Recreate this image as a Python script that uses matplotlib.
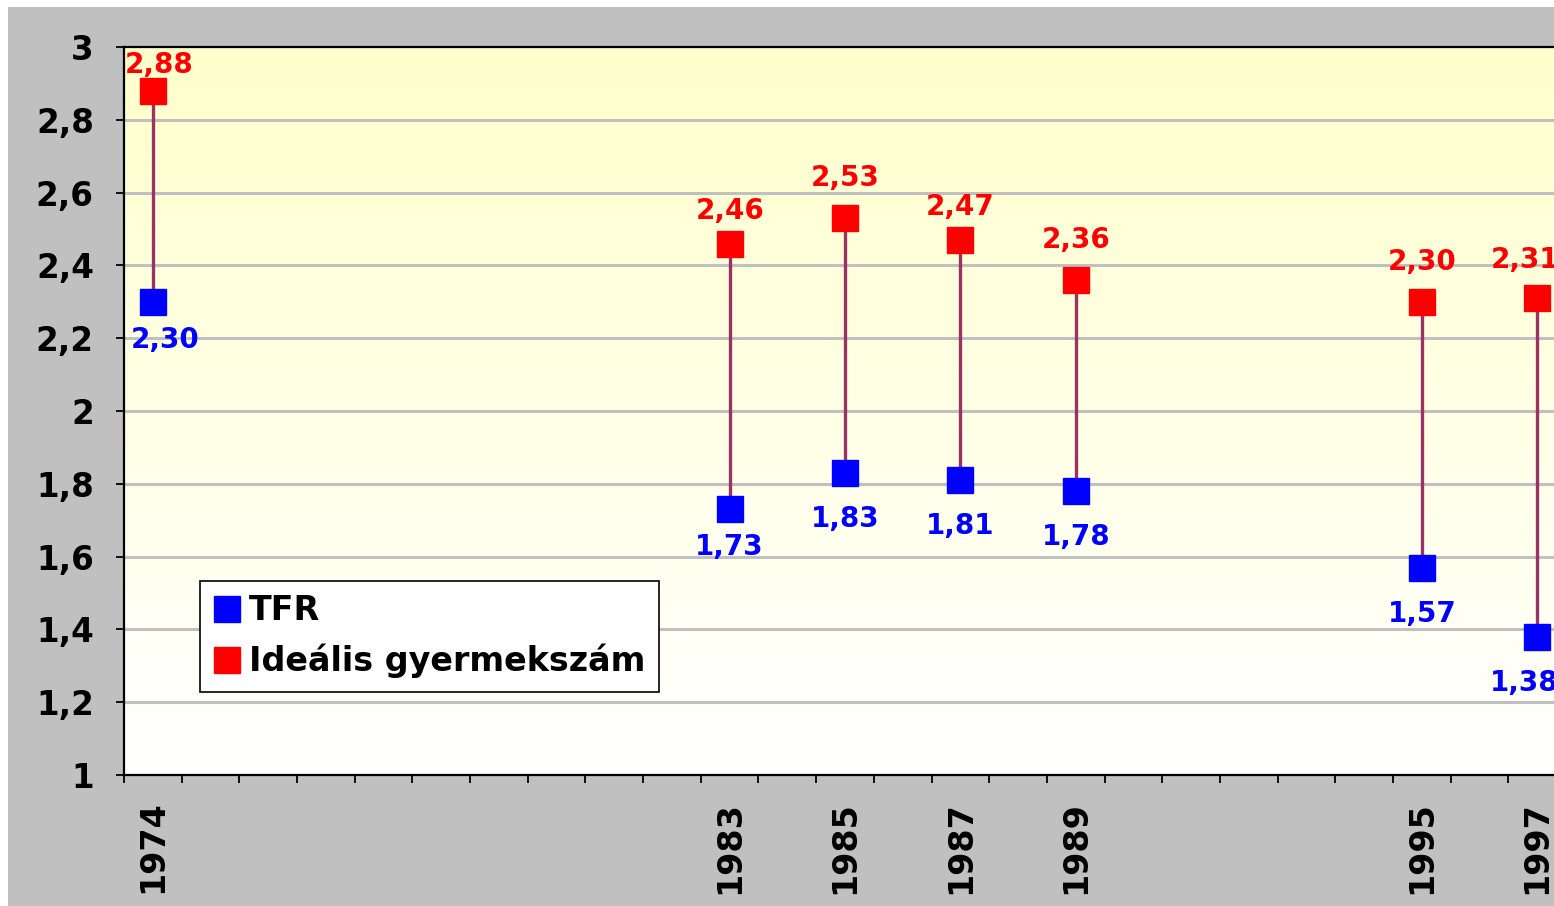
import numpy as np
import matplotlib
matplotlib.use("Agg")
import matplotlib.pyplot as plt
from matplotlib.colors import LinearSegmentedColormap
from matplotlib.patches import Rectangle
from matplotlib.lines import Line2D

# ---- data ----
categories = ["1974", "", "", "", "", "", "", "", "", "",
              "1983", "", "1985", "", "1987", "", "1989",
              "", "", "", "", "", "1995", "", "1997"]
years = ["1974", "1983", "1985", "1987", "1989", "1995", "1997"]
tfr = [2.30, 1.73, 1.83, 1.81, 1.78, 1.57, 1.38]
ideal = [2.88, 2.46, 2.53, 2.47, 2.36, 2.30, 2.31]
series_names = ["TFR", "Ideális gyermekszám"]
y_ticks = [1.0, 1.2, 1.4, 1.6, 1.8, 2.0, 2.2, 2.4, 2.6, 2.8, 3.0]
y_tick_labels = ["1", "1,2", "1,4", "1,6", "1,8", "2", "2,2", "2,4", "2,6", "2,8", "3"]

# ---- style (label offsets in pixels) ----
red_dy = [18, 25, 32, 24.5, 32, 32, 30]
blue_dy = [46, 46, 54, 54, 54, 54, 54]
lab_dx = [6.5, 0, 0, 0, 0, 0, -12.5]
blue_dx = [12.5, 0, 0, 0, 0, 0, -12.5]

W, H = 1554, 906
px = 72 / 100.0  # points per pixel at dpi 100
FONT = "DejaVu Sans"

fig = plt.figure(figsize=(W / 100, H / 100), dpi=100)
fig.patch.set_facecolor("white")
fig.add_artist(Rectangle((8 / W, 0), 1, (H - 7) / H, transform=fig.transFigure,
                         facecolor="#C0C0C0", edgecolor="none", zorder=-10))

ax = fig.add_axes([124 / W, (H - 775) / H, 1442 / W, 728 / H])
ncat = len(categories)
ax.set_xlim(-0.5, ncat - 0.5)
ax.set_ylim(y_ticks[0], y_ticks[-1])

cmap = LinearSegmentedColormap.from_list("bg", ["#FFFFFF", "#FFFFCC"])
ax.imshow(np.linspace(0, 1, 256).reshape(-1, 1), extent=[-0.5, ncat - 0.5, 1, 3],
          aspect="auto", cmap=cmap, origin="lower", zorder=0, interpolation="bilinear")

for y in y_ticks[1:-1]:
    ax.axhline(y, color="#C0C0C0", lw=2.2, zorder=1)

for s in ax.spines.values():
    s.set_linewidth(1.6)
    s.set_color("black")
    s.set_zorder(5)

ax.set_yticks(y_ticks)
ax.set_yticklabels(y_tick_labels, fontsize=23.5, fontweight="bold", family=FONT)
ax.tick_params(axis="y", direction="out", length=8 * px, width=1.3, pad=16, colors="black")

ax.set_xticks(np.arange(-0.5, ncat, 1.0))
ax.set_xticklabels([])
ax.tick_params(axis="x", which="major", direction="out", length=8 * px, width=1.3)
pos = [categories.index(y) for y in years]
ax.set_xticks(pos, minor=True)
ax.set_xticklabels(years, minor=True, rotation=90, fontsize=24, fontweight="bold", family=FONT)
ax.tick_params(axis="x", which="minor", length=0, pad=18.5)

ax.vlines(pos, tfr, ideal, color="#993366", lw=2.4, zorder=3)
ax.plot(pos, tfr, "s", color="#0000FF", ms=19, ls="none", zorder=4, clip_on=False)
ax.plot(pos, ideal, "s", color="#FF0000", ms=19, ls="none", zorder=4, clip_on=False)

def fmt(v):
    return f"{v:.2f}".replace(".", ",")

for i, x in enumerate(pos):
    ax.annotate(fmt(ideal[i]), xy=(x, ideal[i]), xytext=(lab_dx[i] * px, red_dy[i] * px),
                textcoords="offset points", ha="center", va="baseline",
                fontsize=20, fontweight="bold", color="#FF0000", family=FONT, zorder=6)
    ax.annotate(fmt(tfr[i]), xy=(x, tfr[i]), xytext=(blue_dx[i] * px, -blue_dy[i] * px),
                textcoords="offset points", ha="center", va="baseline",
                fontsize=20, fontweight="bold", color="#0000FF", family=FONT, zorder=6)

handles = [Line2D([], [], marker="s", ls="none", color="#0000FF", ms=19),
           Line2D([], [], marker="s", ls="none", color="#FF0000", ms=19)]
leg = fig.legend(handles, series_names, loc="upper left",
                 bbox_to_anchor=(200 / W, 1 - 581 / H), borderaxespad=0,
                 prop={"family": FONT, "weight": "bold", "size": 24},
                 frameon=True, fancybox=False, shadow=False, framealpha=1,
                 edgecolor="black", facecolor="white",
                 handlelength=0.8, handletextpad=0.27, borderpad=0.4,
                 labelspacing=0.5)
leg.get_frame().set_linewidth(1.2)

fig.savefig("out.png", dpi=100, facecolor=fig.get_facecolor())
